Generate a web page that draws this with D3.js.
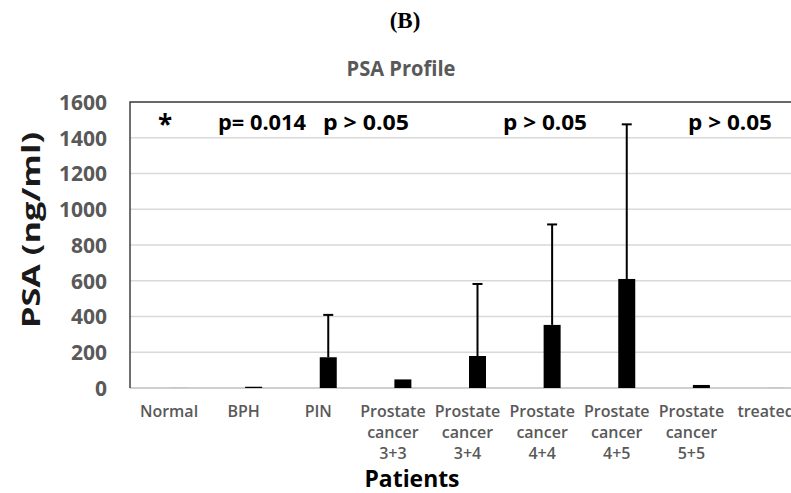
<!DOCTYPE html>
<html>
<head>
<meta charset="utf-8">
<script src="https://cdn.jsdelivr.net/npm/d3@7"></script>
<style>
  html, body { margin: 0; padding: 0; background: #fff; }
  svg { display: block; }
</style>
</head>
<body>
<svg id="chart" width="791" height="493"></svg>
<script>
// Patient groups (x categories), wrapped onto up to three lines
const categories = [
  ["Normal"],
  ["BPH"],
  ["PIN"],
  ["Prostate", "cancer", "3+3"],
  ["Prostate", "cancer", "3+4"],
  ["Prostate", "cancer", "4+4"],
  ["Prostate", "cancer", "4+5"],
  ["Prostate", "cancer", "5+5"],
  ["treated"]
];
// Mean PSA (ng/ml) per group
const meanPSA = [3, 7, 172, 48, 179, 353, 610, 17, 3];
// Upper end of the error bar (mean + SD), ng/ml
const upperPSA = [3, 9, 409, 50, 582, 915, 1475, 20, 4];
// Y axis ticks
const yTicks = [0, 200, 400, 600, 800, 1000, 1200, 1400, 1600];
// Significance annotations along the top of the plot
const pLabels = ["*", "p= 0.014", "p > 0.05", "p > 0.05", "p > 0.05"];
const pLabelX = [165, 262, 366, 545, 730];
const pLabelW = [null, 88, 86, 84, 84];

const svg = d3.select("#chart");
const W = 791, H = 493;
const plotLeft = 130, plotTop = 102, plotBottom = 388, plotRight = W;

const x = d3.scalePoint()
  .domain(d3.range(categories.length))
  .range([179, 776]);
const barW = 17;

const y = d3.scaleLinear().domain([0, 1600]).range([plotBottom, plotTop]);

// Figure panel letter
svg.append("text")
  .attr("x", 405).attr("y", 28)
  .attr("text-anchor", "middle")
  .attr("font-family", "Liberation Serif, serif")
  .attr("font-weight", "bold")
  .attr("font-size", 23)
  .attr("fill", "#000")
  .text("(B)");

// Chart title
svg.append("text")
  .attr("x", 401).attr("y", 76)
  .attr("text-anchor", "middle")
  .attr("font-family", "Open Sans, sans-serif")
  .attr("font-weight", "bold")
  .attr("font-size", 21)
  .attr("fill", "#595959")
  .attr("textLength", 109)
  .attr("lengthAdjust", "spacingAndGlyphs")
  .text("PSA Profile");

// Horizontal gridlines
svg.append("g")
  .selectAll("line")
  .data(yTicks.filter(d => d > 0))
  .join("line")
  .attr("x1", plotLeft).attr("x2", plotRight)
  .attr("y1", d => y(d)).attr("y2", d => y(d))
  .attr("stroke", "#d9d9d9").attr("stroke-width", 1.3);

// Baseline
svg.append("line")
  .attr("x1", plotLeft).attr("x2", plotRight)
  .attr("y1", y(0)).attr("y2", y(0))
  .attr("stroke", "#bfbfbf").attr("stroke-width", 1.5);

// Plot frame (top and left)
svg.append("path")
  .attr("d", `M${plotRight},${plotTop}H${plotLeft}V${plotBottom}`)
  .attr("fill", "none")
  .attr("stroke", "#404040")
  .attr("stroke-width", 1.5);

// Y axis tick labels
const yAxis = d3.axisLeft(y).tickValues(yTicks).tickFormat(d3.format("d"))
  .tickSize(0).tickPadding(0);
const gy = svg.append("g")
  .attr("transform", `translate(107,0)`)
  .call(yAxis);
gy.select(".domain").remove();
gy.selectAll("text")
  .attr("font-family", "Open Sans, sans-serif")
  .attr("font-weight", "bold")
  .attr("font-size", 21)
  .attr("fill", "#595959")
  .attr("dy", "0.35em");

// Y axis title
svg.append("text")
  .attr("transform", `translate(40,230) rotate(-90)`)
  .attr("text-anchor", "middle")
  .attr("font-family", "Open Sans, sans-serif")
  .attr("font-weight", "bold")
  .attr("font-size", 25)
  .attr("fill", "#1a1a1a")
  .attr("textLength", 196)
  .attr("lengthAdjust", "spacingAndGlyphs")
  .text("PSA (ng/ml)");

// Bars
const bars = svg.append("g");
bars.selectAll("rect")
  .data(meanPSA)
  .join("rect")
  .attr("x", (d, i) => x(i) - barW / 2)
  .attr("y", d => y(d))
  .attr("width", barW)
  .attr("height", d => y(0) - y(d))
  .attr("fill", (d, i) => (i === 0 || i === 8) ? "#bdbdbd" : "#000");

// Error bars (upper only)
const err = svg.append("g").attr("stroke", "#000").attr("stroke-width", 2);
meanPSA.forEach((m, i) => {
  const u = upperPSA[i];
  if (u - m < 20) return;
  err.append("line")
    .attr("x1", x(i)).attr("x2", x(i))
    .attr("y1", y(m)).attr("y2", y(u));
  err.append("line")
    .attr("x1", x(i) - 5).attr("x2", x(i) + 5)
    .attr("y1", y(u)).attr("y2", y(u));
});

// Category labels
const xl = svg.append("g")
  .attr("font-family", "Open Sans, sans-serif")
  .attr("font-weight", 600)
  .attr("font-size", 16)
  .attr("fill", "#595959")
  .attr("text-anchor", "middle");
categories.forEach((lines, i) => {
  const t = xl.append("text")
    .attr("x", x(i) - 10)
    .attr("y", 417);
  lines.forEach((ln, j) => {
    t.append("tspan")
      .attr("x", x(i) - 10)
      .attr("dy", j === 0 ? 0 : 21)
      .text(ln);
  });
});

// X axis title
svg.append("text")
  .attr("x", 412).attr("y", 487)
  .attr("text-anchor", "middle")
  .attr("font-family", "Open Sans, sans-serif")
  .attr("font-weight", "bold")
  .attr("font-size", 23)
  .attr("fill", "#000")
  .attr("textLength", 95)
  .attr("lengthAdjust", "spacingAndGlyphs")
  .text("Patients");

// Significance labels
const pg = svg.append("g");
pLabels.forEach((d, i) => {
  const t = pg.append("text")
    .attr("x", pLabelX[i])
    .attr("y", i === 0 ? 134 : 130)
    .attr("text-anchor", "middle")
    .attr("font-family", "Open Sans, sans-serif")
    .attr("font-weight", "bold")
    .attr("font-size", i === 0 ? 26 : 22)
    .attr("fill", "#000")
    .text(d);
  if (pLabelW[i]) {
    t.attr("textLength", pLabelW[i]).attr("lengthAdjust", "spacingAndGlyphs");
  }
});
</script>
</body>
</html>
